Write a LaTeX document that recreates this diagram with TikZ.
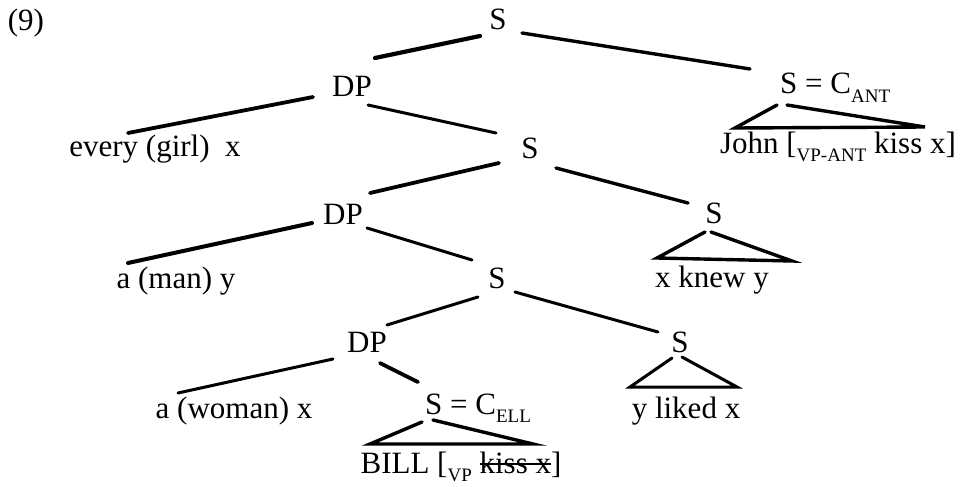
\documentclass[tikz,border=0pt]{standalone}
\usepackage{fontspec}
\setmainfont{Liberation Serif}
\usetikzlibrary{calc}
\newcommand{\mystrike}[1]{\setbox0\hbox{#1}\rlap{\raisebox{0.26em}{\rule{\wd0}{1.8pt}}}\box0}
\newcommand{\subcap}[1]{\raisebox{-0.28em}{\fontsize{19}{19}\selectfont #1}}
\begin{document}
\begin{tikzpicture}[x=1pt,y=-1pt]
\tikzset{
  lbl/.style={inner sep=0pt, anchor=base, font=\fontsize{31}{36}\selectfont},
  edge/.style={line width=3.4pt, line cap=round},
  thin edge/.style={line width=3pt, line cap=round}
}
\useasboundingbox (0,0) rectangle (967,487);
% labels
\node[lbl] (n9) at (26,31) {(9)};
\node[lbl] (top) at (498,30) {S};
\node[lbl] (dp1) at (352,96) {DP};
\node[lbl] (every) at (155,156) {every (girl)\ \ x};
\node[lbl] (s2) at (530,158) {S};
\node[lbl, anchor=base west] (sant) at (780,94) {S = C\subcap{ANT}};
\node[lbl] (john) at (838,153) {John [\subcap{VP-ANT} kiss x]};
\node[lbl] (dp2) at (343,224) {DP};
\node[lbl] (sknew) at (714,223) {S};
\node[lbl] (knew) at (712,287) {x knew y};
\node[lbl] (aman) at (176,288) {a (man) y};
\node[lbl] (s3) at (497,288) {S};
\node[lbl] (dp3) at (367,352) {DP};
\node[lbl] (sliked) at (680,352) {S};
\node[lbl] (liked) at (686,418) {y liked x};
\node[lbl] (awoman) at (234,418) {a (woman) x};
\node[lbl, anchor=base west] (sell) at (425,414) {S = C\subcap{ELL}};
\node[lbl] (bill) at (461,473) {BILL [\subcap{VP} \mystrike{kiss x}]};
% branches
\draw[edge, line width=4.2pt] ($(top.base)+(-18,6)$) -- ($(dp1.base)+(23,-38)$);
\draw[edge] ($(top.base)+(24,3)$) -- ($(sant.base west)+(-30,-25)$);
\draw[edge, line width=3.8pt] ($(dp1.base)+(-39,1)$) -- ($(every.base)+(-27,-23)$);
\draw[thin edge] ($(dp1.base)+(16,9)$) -- ($(s2.base)+(-34,-25)$);
\draw[edge, line width=3.8pt] ($(s2.base)+(-31,5)$) -- ($(dp2.base)+(27,-31)$);
\draw[edge] ($(s2.base)+(26,10)$) -- ($(sknew.base)+(-26,-20)$);
\draw[edge, line width=4pt] ($(dp2.base)+(-31,-1)$) -- ($(aman.base)+(-48,-25)$);
\draw[thin edge] ($(dp2.base)+(24,4)$) -- ($(s3.base)+(-25,-28)$);
\draw[thin edge] ($(s3.base)+(-19,9)$) -- ($(dp3.base)+(20,-27)$);
\draw[thin edge] ($(s3.base)+(18,4)$) -- ($(sliked.base)+(-22,-20)$);
\draw[thin edge] ($(dp3.base)+(-34,7)$) -- ($(awoman.base)+(-56,-25)$);
\draw[edge, line width=3.8pt] ($(dp3.base)+(13,11)$) -- ($(sell.base west)+(-7,-32)$);
% triangles
\draw[edge] ($(sant.base west)+(-3,11)$) -- ($(sant.base west)+(-45,34)$)
  -- ($(sant.base west)+(145,33)$) -- ($(sant.base west)+(7,11)$);
\draw[edge] ($(sknew.base)+(-9,9)$) -- ($(sknew.base)+(-57,35)$)
  -- ($(sknew.base)+(78,38)$) -- ($(sknew.base)+(-3,9)$);
\draw[thin edge] ($(sliked.base)+(-8,6)$) -- ($(sliked.base)+(-50,35)$)
  -- ($(sliked.base)+(57,35)$) -- ($(sliked.base)+(2,5)$);
\draw[edge] ($(sell.base west)+(-3,8)$) -- ($(sell.base west)+(-55,30)$)
  -- ($(sell.base west)+(108,30)$) -- ($(sell.base west)+(8,6)$);
\end{tikzpicture}
\end{document}
